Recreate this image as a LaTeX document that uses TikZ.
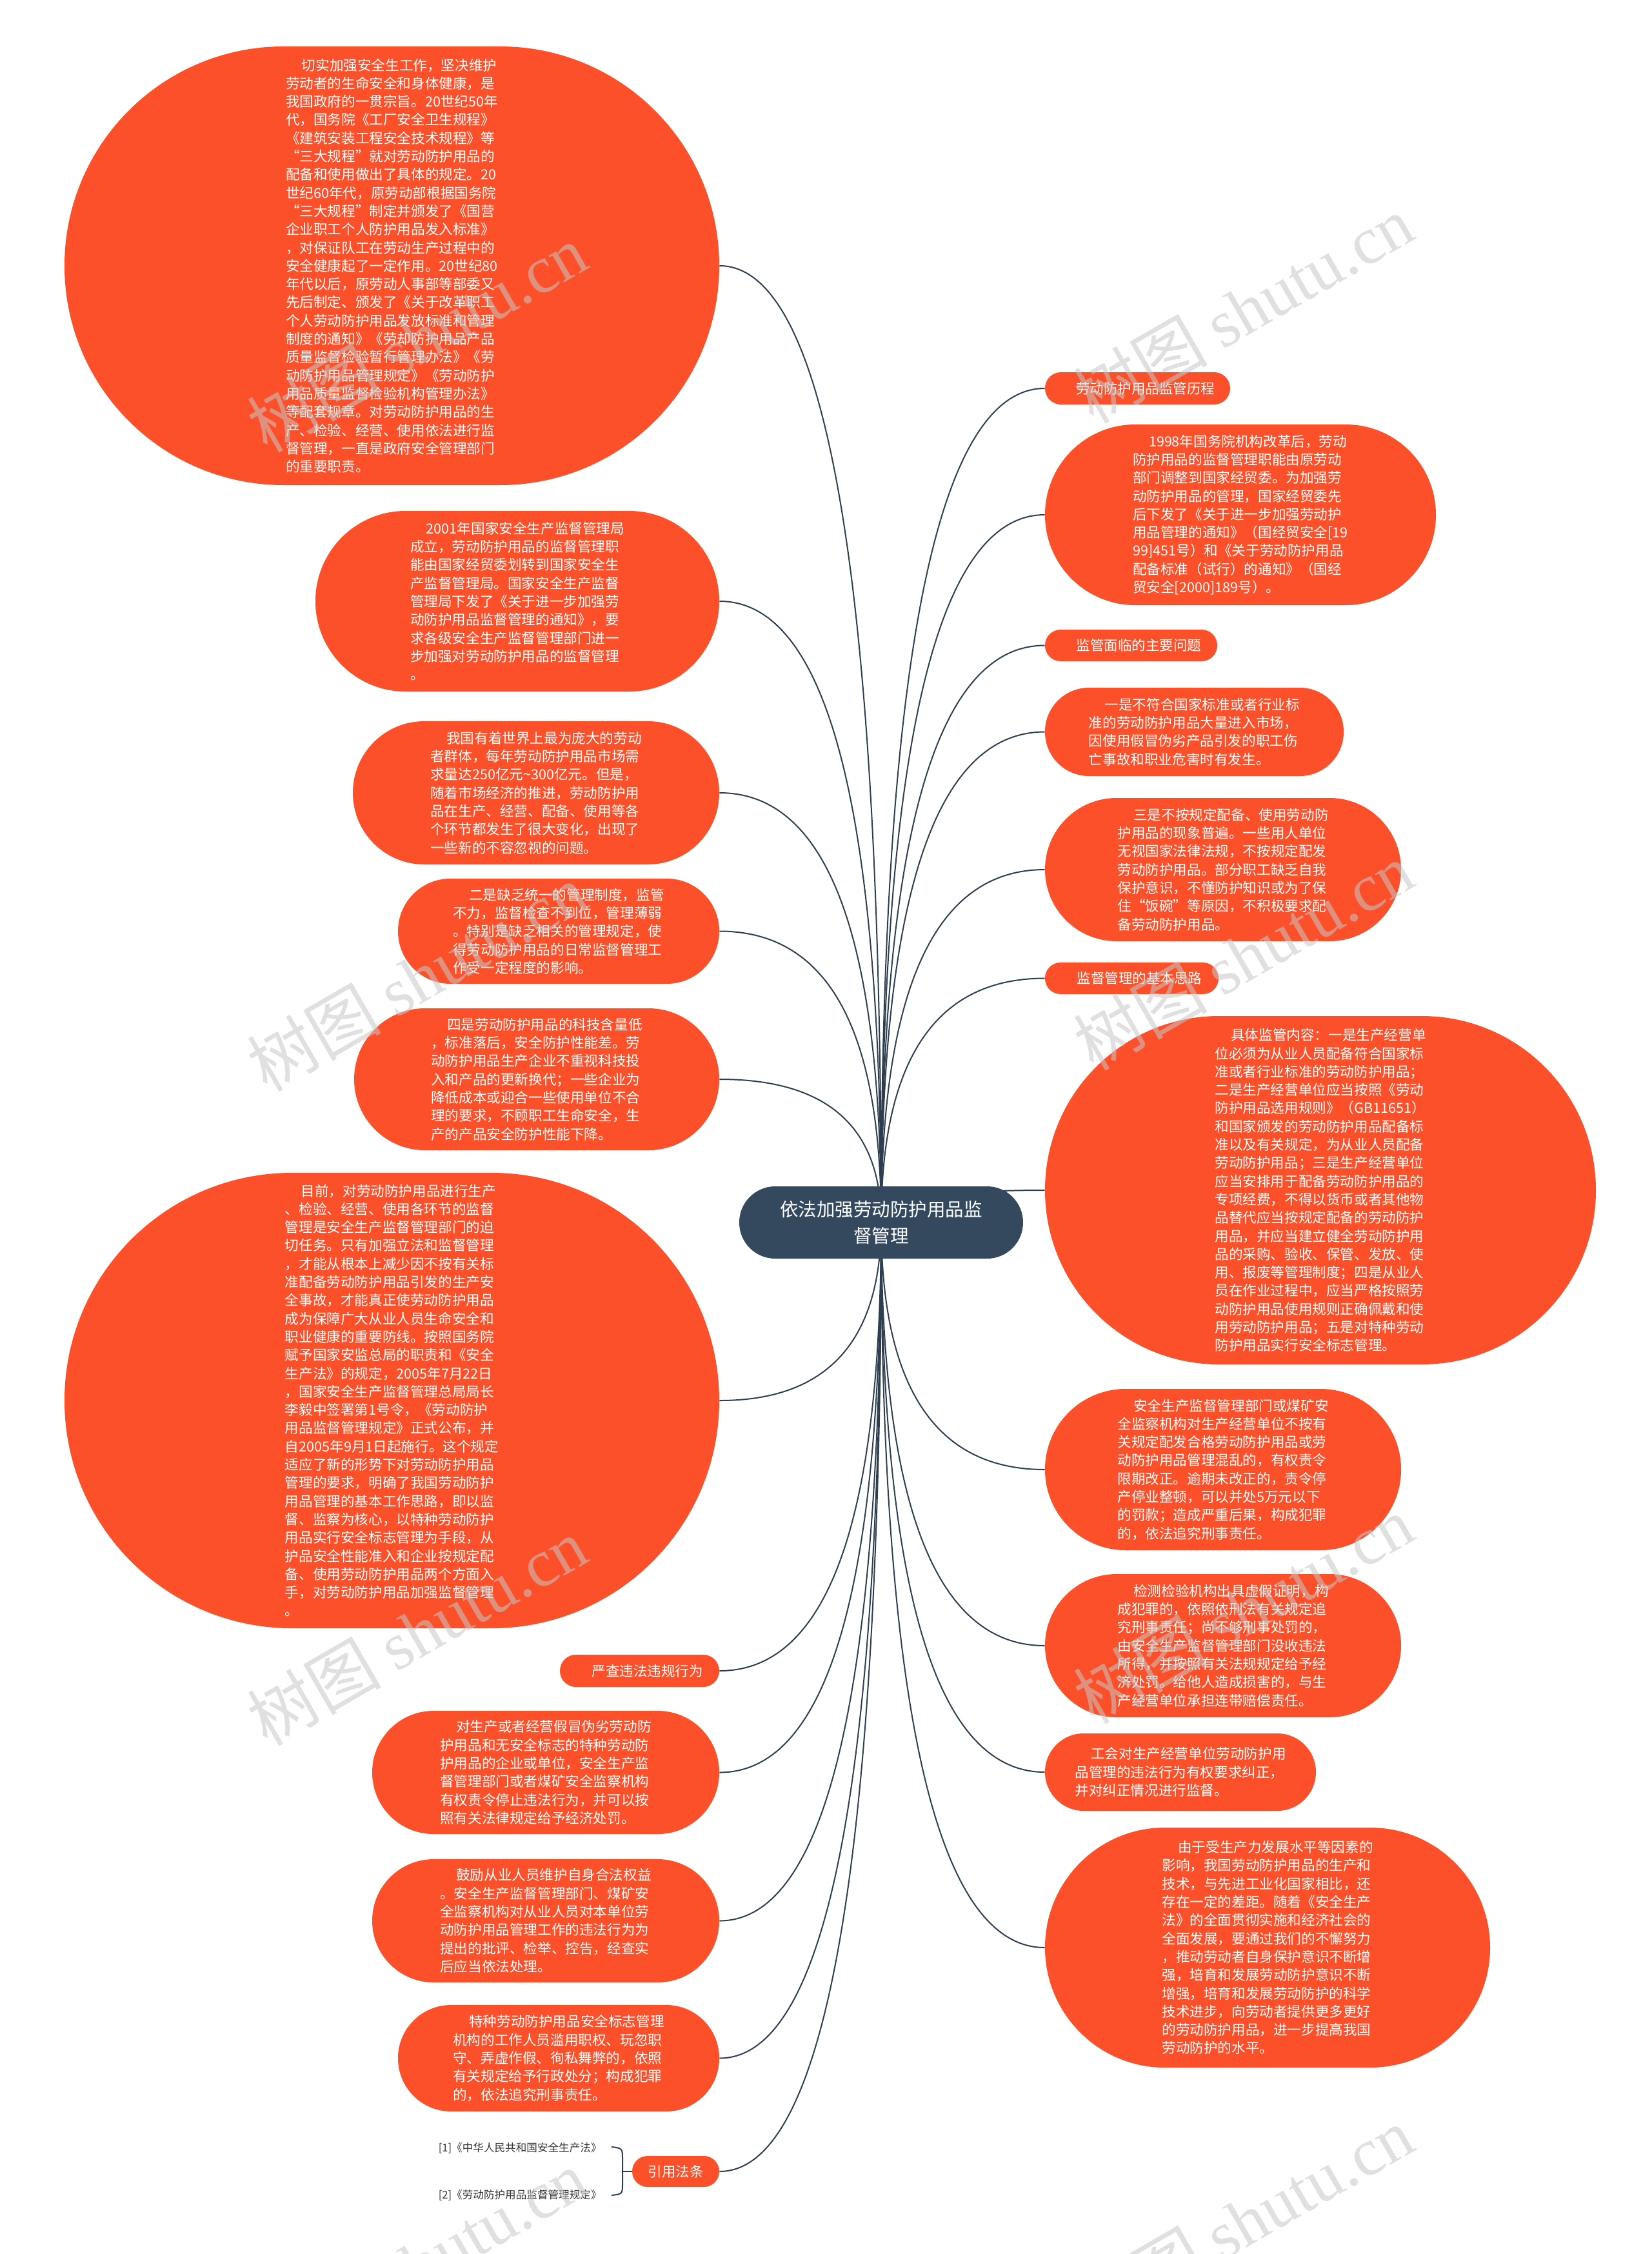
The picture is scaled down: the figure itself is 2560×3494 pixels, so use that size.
\documentclass[tikz,border=0pt]{standalone}
\usepackage{fontspec}
\setmainfont{Noto Sans CJK SC}
\newfontfamily\wmfont{Liberation Serif}
\usetikzlibrary{calc,backgrounds}
\definecolor{nodeor}{HTML}{FC502A}
\definecolor{centerbg}{HTML}{34495E}
\definecolor{lineclr}{HTML}{2C3E50}
\definecolor{wmgray}{RGB}{200,200,200}
\definecolor{reftext}{HTML}{333333}
\begin{document}
\begin{tikzpicture}[x=0.5pt,y=-0.5pt,
  pill/.style={shape=rectangle, fill=nodeor, text=white, inner sep=0pt, align=left,
    font=\fontsize{10.8pt}{14.15pt}\selectfont},
  tag/.style={shape=rectangle, fill=nodeor, text=white, inner sep=0pt, align=center,
    font=\fontsize{10.75pt}{13pt}\selectfont},
  sz/.style n args={3}{minimum width=#1, minimum height=#2, rounded corners=#3},
  conn/.style={draw=lineclr, line width=1pt},
  reftxt/.style={text=reftext, inner sep=0pt, font=\fontsize{8.3pt}{10pt}\selectfont},
  wm/.style={text=wmgray, opacity=0.55, rotate=30, inner sep=0pt, font=\fontsize{52pt}{54pt}\selectfont}
]
\useasboundingbox (0,0) rectangle (2560,3494);

% centre
\node[shape=rectangle, fill=centerbg, text=white, inner sep=0pt, align=center,
  font=\fontsize{14.25pt}{20.5pt}\selectfont, sz={220pt}{56pt}{27.9pt}] (c) at (1366,1895)
  {依法加强劳动防护用品监\\督管理};

% ---------------- left column ----------------
\node[pill, sz={507.5pt}{340pt}{169.9pt}] (l1) at (607.5,412) {\hspace*{1.15em}切实加强安全生工作，坚决维护\\
劳动者的生命安全和身体健康，是\\
我国政府的一贯宗旨。20世纪50年\\
代，国务院《工厂安全卫生规程》\\
《建筑安装工程安全技术规程》等\\
“三大规程”就对劳动防护用品的\\
配备和使用做出了具体的规定。20\\
世纪60年代，原劳动部根据国务院\\
“三大规程”制定并颁发了《国营\\
企业职工个人防护用品发入标准》\\
，对保证队工在劳动生产过程中的\\
安全健康起了一定作用。20世纪80\\
年代以后，原劳动人事部等部委又\\
先后制定、颁发了《关于改革职工\\
个人劳动防护用品发放标准和管理\\
制度的通知》《劳却防护用品产品\\
质量监督检验暂行管理办法》《劳\\
动防护用品管理规定》《劳动防护\\
用品质量监督检验机构管理办法》\\
等配套规章。对劳动防护用品的生\\
产、检验、经营、使用依法进行监\\
督管理，一直是政府安全管理部门\\
的重要职责。};

\node[pill, sz={313pt}{140pt}{69.9pt}] (l2) at (802,932) {\hspace*{1.15em}2001年国家安全生产监督管理局\\
成立，劳动防护用品的监督管理职\\
能由国家经贸委划转到国家安全生\\
产监督管理局。国家安全生产监督\\
管理局下发了《关于进一步加强劳\\
动防护用品监督管理的通知》，要\\
求各级安全生产监督管理部门进一\\
步加强对劳动防护用品的监督管理\\
。};

\node[pill, sz={284pt}{111pt}{55.4pt}] (l3) at (831,1229) {\hspace*{1.15em}我国有着世界上最为庞大的劳动\\
者群体，每年劳动防护用品市场需\\
求量达250亿元\textasciitilde 300亿元。但是，\\
随着市场经济的推进，劳动防护用\\
品在生产、经营、配备、使用等各\\
个环节都发生了很大变化，出现了\\
一些新的不容忽视的问题。};

\node[pill, sz={249pt}{81.5pt}{40.6pt}] (l4) at (866,1443.5) {\hspace*{1.15em}二是缺乏统一的管理制度，监管\\
不力，监督检查不到位，管理薄弱\\
。特别是缺乏相关的管理规定，使\\
得劳动防护用品的日常监督管理工\\
作受一定程度的影响。};

\node[pill, sz={283pt}{110pt}{54.9pt}] (l5) at (832,1673) {\hspace*{1.15em}四是劳动防护用品的科技含量低\\
，标准落后，安全防护性能差。劳\\
动防护用品生产企业不重视科技投\\
入和产品的更新换代；一些企业为\\
降低成本或迎合一些使用单位不合\\
理的要求，不顾职工生命安全，生\\
产的产品安全防护性能下降。};

\node[pill, sz={507.5pt}{353pt}{176.4pt}] (l6) at (607.5,2171) {\hspace*{1.15em}目前，对劳动防护用品进行生产\\
、检验、经营、使用各环节的监督\\
管理是安全生产监督管理部门的迫\\
切任务。只有加强立法和监督管理\\
，才能从根本上减少因不按有关标\\
准配备劳动防护用品引发的生产安\\
全事故，才能真正使劳动防护用品\\
成为保障广大从业人员生命安全和\\
职业健康的重要防线。按照国务院\\
赋予国家安监总局的职责和《安全\\
生产法》的规定，2005年7月22日\\
，国家安全生产监督管理总局局长\\
李毅中签署第1号令，《劳动防护\\
用品监督管理规定》正式公布，并\\
自2005年9月1日起施行。这个规定\\
适应了新的形势下对劳动防护用品\\
管理的要求，明确了我国劳动防护\\
用品管理的基本工作思路，即以监\\
督、监察为核心，以特种劳动防护\\
用品实行安全标志管理为手段，从\\
护品安全性能准入和企业按规定配\\
备、使用劳动防护用品两个方面入\\
手，对劳动防护用品加强监督管理\\
。};

\node[tag, sz={123.5pt}{25pt}{12.4pt}] (l7) at (991.5,2590) {\hspace*{12pt}严查违法违规行为};

\node[pill, sz={269pt}{95.5pt}{47.6pt}] (l8) at (846,2747.5) {\hspace*{1.15em}对生产或者经营假冒伪劣劳动防\\
护用品和无安全标志的特种劳动防\\
护用品的企业或单位，安全生产监\\
督管理部门或者煤矿安全监察机构\\
有权责令停止违法行为，并可以按\\
照有关法律规定给予经济处罚。};

\node[pill, sz={269pt}{95.5pt}{47.6pt}] (l9) at (846,2977.5) {\hspace*{1.15em}鼓励从业人员维护自身合法权益\\
。安全生产监督管理部门、煤矿安\\
全监察机构对从业人员对本单位劳\\
动防护用品管理工作的违法行为为\\
提出的批评、检举、控告，经查实\\
后应当依法处理。};

\node[pill, sz={249pt}{82.5pt}{41.1pt}] (l10) at (866,3190.5) {\hspace*{1.15em}特种劳动防护用品安全标志管理\\
机构的工作人员滥用职权、玩忽职\\
守、弄虚作假、徇私舞弊的，依照\\
有关规定给予行政处分；构成犯罪\\
的，依法追究刑事责任。};

\node[tag, sz={67.5pt}{24pt}{11.9pt}] (l11) at (1047.5,3366) {引用法条};

\node[reftxt, anchor=east] (ref1) at (933,3330) {[1]《中华人民共和国安全生产法》};
\node[reftxt, anchor=east] (ref2) at (933,3403) {[2]《劳动防护用品监督管理规定》};

% ---------------- right column ----------------
\node[tag, sz={143.5pt}{25pt}{12.4pt}] (r1) at (1763.5,602) {\hspace*{12pt}劳动防护用品监管历程};

\node[pill, sz={303pt}{140pt}{69.9pt}] (r2) at (1923,798) {\hspace*{1.15em}1998年国务院机构改革后，劳动\\
防护用品的监督管理职能由原劳动\\
部门调整到国家经贸委。为加强劳\\
动防护用品的管理，国家经贸委先\\
后下发了《关于进一步加强劳动护\\
用品管理的通知》（国经贸安全[19\\
99]451号）和《关于劳动防护用品\\
配备标准（试行）的通知》（国经\\
贸安全[2000]189号）。};

\node[tag, sz={133.5pt}{24.5pt}{12.1pt}] (r3) at (1753.5,1000.5) {\hspace*{12pt}监管面临的主要问题};

\node[pill, sz={231.5pt}{68.5pt}{34.1pt}] (r4) at (1851.5,1134.5) {\hspace*{1.15em}一是不符合国家标准或者行业标\\
准的劳动防护用品大量进入市场，\\
因使用假冒伪劣产品引发的职工伤\\
亡事故和职业危害时有发生。};

\node[pill, sz={276pt}{111pt}{55.4pt}] (r5) at (1896,1348) {\hspace*{1.15em}三是不按规定配备、使用劳动防\\
护用品的现象普遍。一些用人单位\\
无视国家法律法规，不按规定配发\\
劳动防护用品。部分职工缺乏自我\\
保护意识，不懂防护知识或为了保\\
住“饭碗”等原因，不积极要求配\\
备劳动防护用品。};

\node[tag, sz={134.5pt}{24.5pt}{12.1pt}] (r6) at (1754.5,1516.5) {\hspace*{12pt}监督管理的基本思路};

\node[pill, sz={427pt}{270pt}{134.9pt}] (r7) at (2047,1845) {\hspace*{1.15em}具体监管内容：一是生产经营单\\
位必须为从业人员配备符合国家标\\
准或者行业标准的劳动防护用品；\\
二是生产经营单位应当按照《劳动\\
防护用品选用规则》（GB11651）\\
和国家颁发的劳动防护用品配备标\\
准以及有关规定，为从业人员配备\\
劳动防护用品；三是生产经营单位\\
应当安排用于配备劳动防护用品的\\
专项经费，不得以货币或者其他物\\
品替代应当按规定配备的劳动防护\\
用品，并应当建立健全劳动防护用\\
品的采购、验收、保管、发放、使\\
用、报废等管理制度；四是从业人\\
员在作业过程中，应当严格按照劳\\
动防护用品使用规则正确佩戴和使\\
用劳动防护用品；五是对特种劳动\\
防护用品实行安全标志管理。};

\node[pill, sz={276pt}{125pt}{62.4pt}] (r8) at (1896,2278) {\hspace*{1.15em}安全生产监督管理部门或煤矿安\\
全监察机构对生产经营单位不按有\\
关规定配发合格劳动防护用品或劳\\
动防护用品管理混乱的，有权责令\\
限期改正。逾期未改正的，责令停\\
产停业整顿，可以并处5万元以下\\
的罚款；造成严重后果，构成犯罪\\
的，依法追究刑事责任。};

\node[pill, sz={276pt}{111pt}{55.4pt}] (r9) at (1896,2551) {\hspace*{1.15em}检测检验机构出具虚假证明，构\\
成犯罪的，依照依刑法有关规定追\\
究刑事责任；尚不够刑事处罚的，\\
由安全生产监督管理部门没收违法\\
所得，并按照有关法规规定给予经\\
济处罚。给他人造成损害的，与生\\
产经营单位承担连带赔偿责任。};

\node[pill, sz={210pt}{60pt}{29.9pt}] (r10) at (1830,2747) {\hspace*{1.15em}工会对生产经营单位劳动防护用\\
品管理的违法行为有权要求纠正，\\
并对纠正情况进行监督。};

\node[pill, sz={345pt}{186pt}{92.9pt}] (r11) at (1965,3019) {\hspace*{1.15em}由于受生产力发展水平等因素的\\
影响，我国劳动防护用品的生产和\\
技术，与先进工业化国家相比，还\\
存在一定的差距。随着《安全生产\\
法》的全面贯彻实施和经济社会的\\
全面发展，要通过我们的不懈努力\\
，推动劳动者自身保护意识不断增\\
强，培育和发展劳动防护意识不断\\
增强，培育和发展劳动防护的科学\\
技术进步，向劳动者提供更多更好\\
的劳动防护用品，进一步提高我国\\
劳动防护的水平。};

% brace coordinates
\coordinate (bt) at (948,3328);
\coordinate (bb) at (948,3403);
\coordinate (bm) at (965,3366);

% ---------------- connectors ----------------
\begin{scope}[on background layer]
  \fill[white] (0,0) rectangle (2560,3494);
  \foreach \n in {r1,r2,r3,r4,r5,r6,r7,r8,r9,r10,r11}{
    \draw[conn] (c.center) .. controls ($(c.center)!0.667!(c.center |- \n.west)$)
      and ($(\n.west)!0.667!(c.center |- \n.west)$) .. (\n.west);
  }
  \foreach \n in {l1,l2,l3,l4,l5,l6,l7,l8,l9,l10,l11}{
    \draw[conn] (c.center) .. controls ($(c.center)!0.667!(c.center |- \n.east)$)
      and ($(\n.east)!0.667!(c.center |- \n.east)$) .. (\n.east);
  }
  \draw[conn] (bt) .. controls (965,3330) .. (965,3348) -- (965,3384) .. controls (965,3401) .. (bb);
  \draw[conn] (bm) -- (l11.west);
\end{scope}

% ---------------- watermarks ----------------
\node[wm] (wm1) at (646,524) {树图 {\wmfont shutu.cn}};
\node[wm] (wm2) at (1927,479) {树图 {\wmfont shutu.cn}};
\node[wm] (wm3) at (646,1515) {树图 {\wmfont shutu.cn}};
\node[wm] (wm4) at (1927,1482) {树图 {\wmfont shutu.cn}};
\node[wm] (wm5) at (646,2529) {树图 {\wmfont shutu.cn}};
\node[wm] (wm6) at (1927,2495) {树图 {\wmfont shutu.cn}};
\node[wm] (wm7) at (646,3509) {树图 {\wmfont shutu.cn}};
\node[wm] (wm8) at (1927,3442) {树图 {\wmfont shutu.cn}};
\end{tikzpicture}
\end{document}
